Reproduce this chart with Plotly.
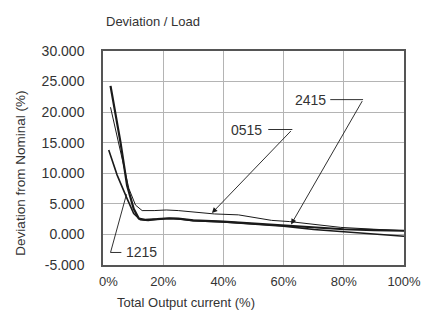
import plotly.graph_objects as go

# ---- data ----
x_0515 = [2.5, 5.8, 8.6, 10.8, 13, 17, 21, 25, 37, 45, 52, 56, 62, 70, 79, 90, 100]
y_0515 = [20.8, 13.5, 7.5, 4.8, 3.9, 3.9, 4.0, 3.9, 3.35, 3.2, 2.7, 2.3, 2.1, 1.6, 1.15, 0.85, 0.6]

x_2415 = [2.5, 5.8, 8, 10.2, 11.9, 14, 18, 22, 25, 30, 40, 50, 60, 70, 80, 90, 100]
y_2415 = [24.3, 15.1, 8.0, 4.2, 2.6, 2.4, 2.5, 2.65, 2.6, 2.3, 2.1, 1.8, 1.45, 1.1, 0.85, 0.7, 0.6]

x_1215 = [1.9, 4.7, 8, 10.2, 12.4, 15, 18, 22, 25, 30, 40, 50, 60, 70, 80, 90, 100]
y_1215 = [13.8, 9.7, 5.85, 3.4, 2.4, 2.3, 2.5, 2.6, 2.55, 2.25, 2.05, 1.75, 1.35, 0.8, 0.4, 0.1, -0.3]

x_tickvals = [0, 20, 40, 60, 80, 100]
x_ticktext = ["\u00a0\u00a0\u00a00%", "20%", "40%", "60%", "80%", "100%"]
y_tickvals = [-5, 0, 5, 10, 15, 20, 25, 30]
y_ticktext = ["-5.000", "0.000", "5.000", "10.000", "15.000", "20.000", "25.000", "30.000"]

# label callouts: (text, text_x, text_y, leader_x0, leader_x1, arrow_tip_x, arrow_tip_y)
callout_2415 = ("2415", 74.8, 22.05, 75.5, 86.4, 62.5, 1.64)
callout_0515 = ("0515", 53.6, 17.16, 54.9, 62.9, 36.2, 3.5)
# 1215 leader polyline
lead_1215_x = [7.8, 2.9, 2.5, 6.1]
lead_1215_y = [6.56, -2.0, -2.95, -2.95]
label_1215 = ("1215", 7.0, -2.95)

FONT = "Liberation Sans, Arial, sans-serif"
TXT = "#333333"
LINE = "#1a1a1a"

W, H = 421, 316
# desired plot-area edges in window pixels
pl, pr, pt, pb = 102.5, 404, 51, 265

fig = go.Figure()
fig.add_trace(go.Scatter(x=x_0515, y=y_0515, mode="lines", line=dict(color=LINE, width=1.0), name="0515"))
fig.add_trace(go.Scatter(x=x_2415, y=y_2415, mode="lines", line=dict(color=LINE, width=2.2), name="2415"))
fig.add_trace(go.Scatter(x=x_1215, y=y_1215, mode="lines", line=dict(color=LINE, width=1.6), name="1215"))
fig.add_trace(go.Scatter(x=lead_1215_x, y=lead_1215_y, mode="lines", line=dict(color=LINE, width=0.9), hoverinfo="skip"))

annotations = []
shapes = []
for (t, tx, ty, lx0, lx1, ax_tip, ay_tip) in (callout_2415, callout_0515):
    annotations.append(dict(x=tx, y=ty, xref="x", yref="y", text=t, showarrow=False,
                            xanchor="right", yanchor="middle",
                            font=dict(family=FONT, size=14, color=TXT)))
    shapes.append(dict(type="line", xref="x", yref="y", x0=lx0, x1=lx1, y0=ty, y1=ty,
                       line=dict(color=LINE, width=0.9)))
    annotations.append(dict(x=ax_tip, y=ay_tip, xref="x", yref="y", ax=lx1, ay=ty,
                            axref="x", ayref="y", text="", showarrow=True,
                            arrowhead=2, arrowsize=1.2, arrowwidth=0.9, arrowcolor=LINE))
annotations.append(dict(x=label_1215[1], y=label_1215[2], xref="x", yref="y", text=label_1215[0],
                        showarrow=False, xanchor="left", yanchor="middle",
                        font=dict(family=FONT, size=14, color=TXT)))

def px2paper(px, py):
    return (px - pl) / (pr - pl), (pb - py) / (pb - pt)

tx_, ty_ = px2paper(104, 21)
annotations.append(dict(x=tx_, y=ty_, xref="paper", yref="paper", text="Deviation / Load",
                        showarrow=False, xanchor="left", yanchor="middle",
                        font=dict(family=FONT, size=13, color=TXT)))
xt, yt = px2paper(186, 302)
annotations.append(dict(x=xt, y=yt, xref="paper", yref="paper", text="Total Output current (%)",
                        showarrow=False, xanchor="center", yanchor="middle",
                        font=dict(family=FONT, size=13, color=TXT)))
xy, yy = px2paper(19, 173)
annotations.append(dict(x=xy, y=yy, xref="paper", yref="paper", text="Deviation from Nominal (%)",
                        showarrow=False, xanchor="center", yanchor="middle", textangle=-90,
                        font=dict(family=FONT, size=13.5, color=TXT)))

fig.update_layout(
    width=W, height=H,
    margin=dict(l=pl, r=W - pr, t=pt, b=H - pb),
    paper_bgcolor="white", plot_bgcolor="white",
    showlegend=False,
    font=dict(family=FONT, size=13, color=TXT),
    shapes=shapes,
    annotations=annotations,
)

fig.update_xaxes(range=[0, 100.001], tickvals=x_tickvals, ticktext=x_ticktext, automargin=False,
                 showgrid=True, gridcolor="#b4b4b4", gridwidth=1.2,
                 showline=True, linecolor="#555555", linewidth=1.5, mirror=True,
                 ticks="", ticklabelstandoff=4, ticklabeloverflow="allow", zeroline=False,
                 tickfont=dict(family=FONT, size=13, color=TXT))
fig.update_yaxes(range=[-5, 30], tickvals=y_tickvals, ticktext=y_ticktext, automargin=False,
                 showgrid=True, gridcolor="#b4b4b4", gridwidth=1.2,
                 showline=True, linecolor="#555555", linewidth=1.5, mirror=True,
                 ticks="", ticklabelstandoff=14, ticklabeloverflow="allow", zeroline=False,
                 tickfont=dict(family=FONT, size=14, color=TXT))

# remove the browser's default 8px body margin so the figure fills the window exactly
fig.write_html("out.html", config={"displayModeBar": False},
               post_script="document.body.style.margin='0';document.body.style.overflow='hidden';")
